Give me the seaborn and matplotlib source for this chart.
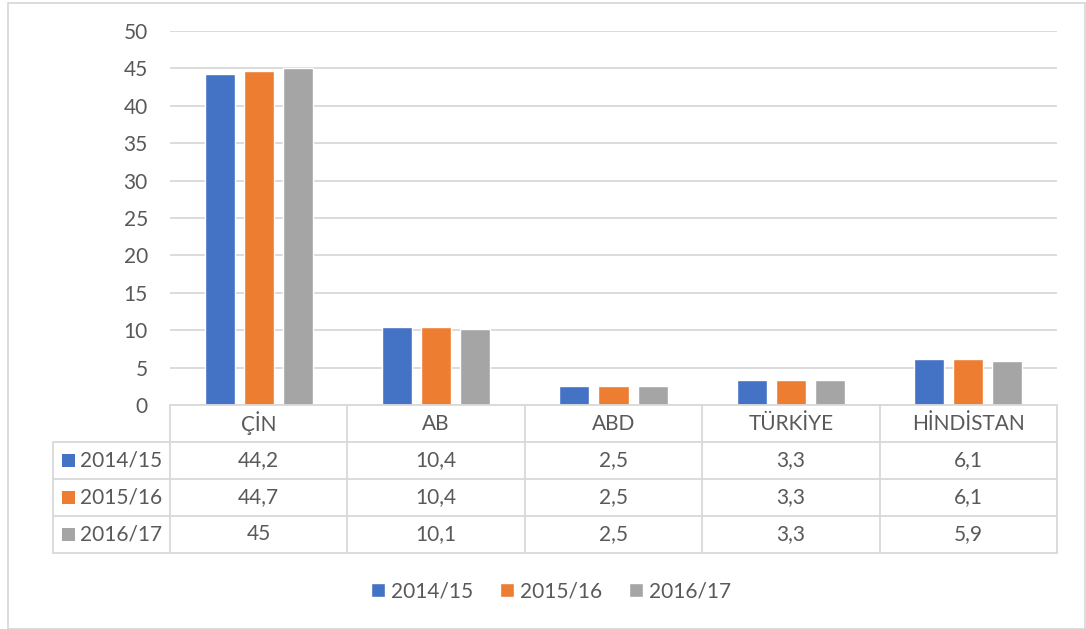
"""
Grouped bar chart with an Excel-style data table underneath
"""
import pandas as pd
import numpy as np
import matplotlib
matplotlib.use('Agg')
import matplotlib.pyplot as plt
from matplotlib.patches import Rectangle
import seaborn as sns

# data
categories = ['ÇİN', 'AB', 'ABD', 'TÜRKİYE', 'HİNDİSTAN']
seasons = ['2014/15', '2015/16', '2016/17']
v_2014 = [44.2, 10.4, 2.5, 3.3, 6.1]
v_2015 = [44.7, 10.4, 2.5, 3.3, 6.1]
v_2016 = [45, 10.1, 2.5, 3.3, 5.9]
y_ticks = [0, 5, 10, 15, 20, 25, 30, 35, 40, 45, 50]

colors = ['#4472C4', '#ED7D31', '#A5A5A5']
text_color = '#595959'
line_color = '#D9D9D9'
fs = 15

df = pd.DataFrame({
    'country': categories * 3,
    'season': np.repeat(seasons, len(categories)),
    'value': v_2014 + v_2015 + v_2016,
})

sns.set_theme(style='white')
plt.rcParams['font.family'] = ['Lato', 'DejaVu Sans']

W, H = 1086, 629
fig = plt.figure(figsize=(W / 100, H / 100), dpi=100)
ax = fig.add_axes([170 / W, 1 - 405 / H, (1057 - 170) / W, (405 - 31) / H])

sns.barplot(data=df, x='country', y='value', hue='season', palette=colors,
            width=0.66, gap=0.23, saturation=1, ax=ax, legend=True)

ax.set_ylim(0, 50)
ax.set_xlim(-0.5, len(categories) - 0.5)
ax.set_yticks(y_ticks)
ax.set_yticklabels([str(t) for t in y_ticks], color=text_color, fontsize=fs)
ax.tick_params(axis='y', length=0, pad=16)
ax.set_xticks([])
ax.set_xlabel('')
ax.set_ylabel('')
ax.yaxis.grid(True, color=line_color, linewidth=1.3)
ax.set_axisbelow(True)
for s in ax.spines.values():
    s.set_visible(False)

# legend at the bottom
handles, labels = ax.get_legend_handles_labels()
ax.get_legend().remove()
fig.legend(handles, labels, loc='center', bbox_to_anchor=(551 / W, 1 - 591 / H),
           ncol=3, frameon=False, handlelength=0.65, handleheight=0.65,
           handletextpad=0.3, columnspacing=1.3, fontsize=fs,
           labelcolor=text_color)

# data table (pixel coordinates -> figure fraction)
def fx(px):
    return px / W

def fy(py):
    return 1 - py / H

col_edges = np.linspace(170, 1057, len(categories) + 1)
row_edges = [405, 442, 479, 516, 553]
left = 53
lw = 1.3

# horizontal lines
fig.add_artist(plt.Line2D([fx(170), fx(1057)], [fy(405), fy(405)], color=line_color, lw=lw))
for ry in row_edges[1:]:
    fig.add_artist(plt.Line2D([fx(left), fx(1057)], [fy(ry), fy(ry)], color=line_color, lw=lw))
# vertical lines
for cx in col_edges:
    fig.add_artist(plt.Line2D([fx(cx), fx(cx)], [fy(405), fy(553)], color=line_color, lw=lw))
fig.add_artist(plt.Line2D([fx(left), fx(left)], [fy(442), fy(553)], color=line_color, lw=lw))

centers = (col_edges[:-1] + col_edges[1:]) / 2
for cx, name in zip(centers, categories):
    fig.text(fx(cx), fy(423.5), name, ha='center', va='center', fontsize=fs, color=text_color)

for i, (season, vals) in enumerate(zip(seasons, [v_2014, v_2015, v_2016])):
    yc = (row_edges[i + 1] + row_edges[i + 2]) / 2
    fig.add_artist(Rectangle((fx(62), fy(yc + 6.5)), 13 / W, 13 / H,
                             facecolor=colors[i], edgecolor='none'))
    fig.text(fx(80), fy(yc), season, ha='left', va='center', fontsize=fs, color=text_color)
    for cx, v in zip(centers, vals):
        fig.text(fx(cx), fy(yc), f'{v:g}'.replace('.', ','), ha='center', va='center',
                 fontsize=fs, color=text_color)

# outer chart border
fig.add_artist(Rectangle((fx(8), fy(629)), (1085 - 8) / W, (629 - 3) / H,
                         facecolor='none', edgecolor=line_color, lw=1.3))

plt.savefig('out.png', dpi=100)
plt.close()
